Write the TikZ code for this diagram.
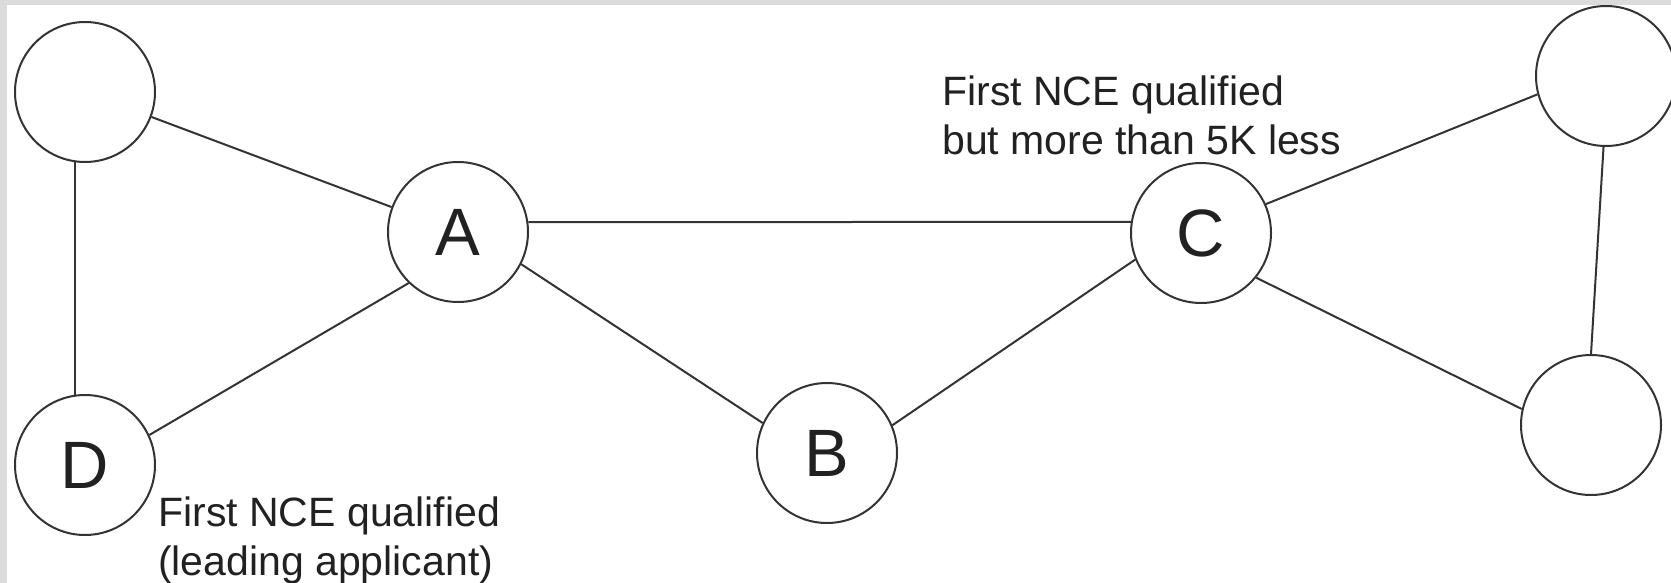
\documentclass[tikz,border=0pt]{standalone}
\usepackage{fontspec}
\setmainfont{Liberation Sans}
\usetikzlibrary{positioning}

\begin{document}
\begin{tikzpicture}[x=1pt,y=-1pt,
  vertex/.style={draw=black!80,line width=2pt,circle,minimum size=140pt,inner sep=0pt,
    text=black!87,font=\fontsize{67}{67}\selectfont},
  link/.style={draw=black!80,line width=2pt},
  note/.style={text=black!87,align=left,inner sep=0pt,anchor=north west,
    font=\fontsize{41}{49}\selectfont}]
\useasboundingbox (0,0) rectangle (1671,583);
\clip (0,0) rectangle (1671,583);
\fill[black!14] (0,0) rectangle (1671,583);
\fill[white] (7,5) rectangle (1671,583);
% the seven applicants
\node[vertex] (tl) at (85,92) {};
\node[vertex] (A) at (458,232) {A};
\node[vertex] (D) at (85,465) {D};
\node[vertex] (B) at (827,453) {B};
\node[vertex] (C) at (1201,233) {C};
\node[vertex] (tr) at (1606,76) {};
\node[vertex] (br) at (1591,425) {};
% links
\draw[link] (tl) -- (A);
\draw[link] (tl.262) -- (D.98);
\draw[link] (D.25) -- (A.226);
\draw[link] (A.8) -- (C.171);
\draw[link] (A.-27) -- (B.155);
\draw[link] (B.23) -- (C.202);
\draw[link] (C.24) -- (tr.195);
\draw[link] (C.-39) -- (br.167);
\draw[link] (tr.268) -- (br.90);
% notes
\node[note] (noteC) at (942,76) {First NCE qualified\\but more than 5K less};
\node[note] (noteD) at (158,497) {First NCE qualified\\(leading applicant)};
\end{tikzpicture}
\end{document}
